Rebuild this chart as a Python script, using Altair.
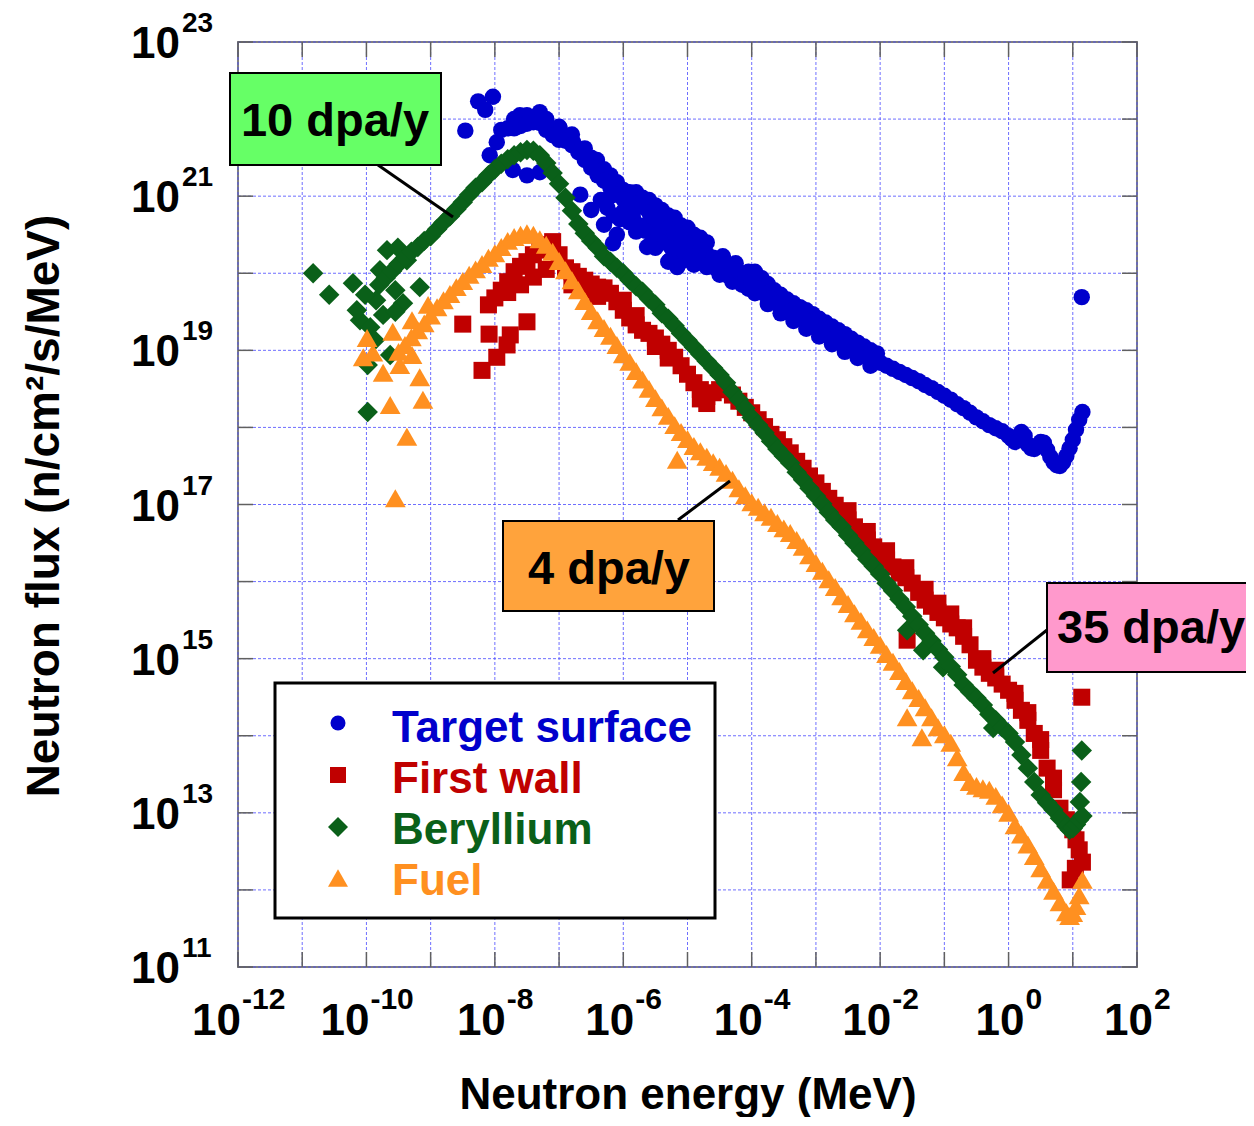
import altair as alt
import pandas as pd

# ---------------- data: (log10 E [MeV], log10 flux) ----------------
target_band = [(-7.9,21.86),(-7.8,21.88),(-7.7,21.88),(-7.6,21.91),(-7.5,21.94),(-7.4,21.96),(-7.3,21.95),
    (-7.2,21.86),(-7.1,21.79),(-7.0,21.73),(-6.9,21.72),(-6.8,21.66),(-6.7,21.57),(-6.6,21.47),(-6.5,21.37),
    (-6.4,21.27),(-6.3,21.20),(-6.2,21.11),(-6.1,21.02),(-6.0,20.96),(-5.9,20.94),(-5.8,20.90),(-5.7,20.86),
    (-5.6,20.79),(-5.5,20.72),(-5.4,20.65),(-5.3,20.59),(-5.2,20.52),(-5.1,20.46),(-5.0,20.39),(-4.9,20.34),
    (-4.8,20.30),(-4.7,20.25),(-4.6,20.20),(-4.5,20.15),(-4.4,20.11),(-4.3,20.05),(-4.2,20.02),(-4.1,19.95),
    (-4.0,19.89),(-3.9,19.80),(-3.8,19.73),(-3.7,19.67),(-3.6,19.61),(-3.5,19.56),(-3.4,19.51),(-3.3,19.46),
    (-3.2,19.42),(-3.1,19.37),(-3.0,19.32),(-2.9,19.26),(-2.8,19.21),(-2.7,19.16),(-2.6,19.12),(-2.5,19.06),
    (-2.4,19.00),(-2.3,18.97),(-2.2,18.91),(-2.1,18.87),(-2.0,18.84),(-1.9,18.80),(-1.8,18.76),(-1.7,18.72),
    (-1.6,18.68),(-1.5,18.64),(-1.4,18.60),(-1.3,18.55),(-1.2,18.51),(-1.1,18.46),(-1.0,18.41),(-0.9,18.36),
    (-0.8,18.30),(-0.7,18.25),(-0.6,18.19),(-0.5,18.13),(-0.4,18.08),(-0.3,18.03),(-0.2,17.99),(-0.1,17.95),
    (0.0,17.89),(0.05,17.85),(0.1,17.81),(0.15,17.84),(0.2,17.94),(0.25,17.89),(0.3,17.78),(0.35,17.73),
    (0.4,17.72),(0.45,17.76),(0.5,17.81),(0.55,17.80),(0.6,17.71),(0.65,17.62),(0.7,17.55),(0.75,17.51),
    (0.8,17.50),(0.85,17.55),(0.9,17.63),(0.95,17.73),(1.0,17.84),(1.05,17.97),(1.1,18.10),(1.15,18.20)]
target_scatter = [(-8.46,21.85),(-8.26,22.23),(-8.15,22.12),(-8.03,22.29),(-8.08,21.53),(-7.97,21.70),
    (-7.72,21.34),(-7.50,21.27),(-7.30,21.31),(-7.30,22.09),(-7.61,22.05),(-6.99,21.88),(-6.78,21.70),
    (-6.41,21.47),(-6.6,21.62),(-6.5,21.50),(-6.3,21.35),(-6.2,21.00),(-6.0,20.80),(-5.8,20.98),(-5.6,20.65),
    (-6.16,20.39),(-5.63,20.34),(-5.27,20.17),(-5.16,20.08),(1.14,19.69),
    (-7.7,22.00),(-7.5,22.05),(-7.2,22.00),(-7.0,21.90),(-6.8,21.80),(-6.67,21.02),(-6.5,20.82),
    (-6.3,20.63),(-6.1,20.50),(-5.9,20.66),(-5.8,20.54),(-5.58,20.37),(-5.5,20.33),(-5.3,20.15),
    (-5.1,20.15),(-4.9,20.11),(-4.7,20.08),(-4.5,19.98),(-4.3,19.89),(-6.2,21.27),(-6.0,21.08),
    (-5.8,21.05),(-5.6,20.95),(-5.4,20.82),(-5.2,20.72),(-5.0,20.59),(-4.8,20.46),
    (-6.35,20.95),(-6.25,20.85),(-6.15,20.75),(-6.05,20.70),(-5.95,20.78),(-5.85,20.72),(-5.75,20.62),
    (-5.65,20.55),(-5.45,20.50),(-5.35,20.40),(-5.25,20.33),(-5.15,20.30),(-5.05,20.28),(-4.95,20.22),
    (-4.85,20.18),(-4.75,20.16),(-4.65,20.12),(-4.55,20.06),(-4.45,20.02),(-4.35,19.96),
    (-6.1,21.18),(-5.9,21.05),(-5.7,20.98),(-5.5,20.88),(-5.3,20.75),(-5.1,20.62),(-4.9,20.50),(-4.7,20.40),
    (-4.45,20.22),(-4.25,20.13),(-4.05,20.02),(-4.15,19.85),(-4.05,19.80),
    (-3.95,20.02),(-3.85,19.94),(-3.75,19.86),(-3.65,19.78),(-3.55,19.72),(-3.45,19.66),(-3.35,19.61),
    (-3.25,19.56),(-3.15,19.52),(-3.05,19.47),(-2.95,19.41),(-2.85,19.36),(-2.75,19.31),(-2.65,19.26),
    (-2.55,19.21),(-2.45,19.15),(-2.35,19.10),(-2.25,19.05),(-2.15,19.00),(-2.05,18.96),
    (-3.95,19.74),(-3.75,19.60),(-3.55,19.48),(-3.35,19.38),(-3.15,19.28),(-2.95,19.18),(-2.75,19.08),
    (-2.55,18.98),(-2.35,18.90),(-2.15,18.80)]

firstwall_band = [(-8.1,19.59),(-8.0,19.68),(-7.9,19.78),(-7.8,19.89),(-7.7,20.02),(-7.6,20.09),(-7.5,20.15),
    (-7.4,20.24),(-7.3,20.30),(-7.2,20.37),(-7.1,20.41),(-7.0,20.24),(-6.9,20.07),(-6.8,20.02),(-6.7,19.96),
    (-6.6,19.91),(-6.5,19.86),(-6.4,19.82),(-6.3,19.81),(-6.2,19.74),(-6.1,19.63),(-6.0,19.52),(-5.9,19.42),
    (-5.8,19.33),(-5.7,19.26),(-5.6,19.22),(-5.5,19.16),(-5.4,19.08),(-5.3,19.00),(-5.2,18.91),(-5.1,18.80),
    (-5.0,18.69),(-4.9,18.58),(-4.8,18.49),(-4.7,18.40),(-4.6,18.45),(-4.5,18.49),(-4.4,18.49),(-4.3,18.42),
    (-4.2,18.34),(-4.1,18.26),(-4.0,18.19),(-3.9,18.10),(-3.8,18.01),(-3.7,17.91),(-3.6,17.84),(-3.5,17.75),
    (-3.4,17.67),(-3.3,17.56),(-3.2,17.47),(-3.1,17.37),(-3.0,17.28),(-2.9,17.17),(-2.8,17.08),(-2.7,16.99),
    (-2.6,16.90),(-2.5,16.80),(-2.4,16.71),(-2.3,16.63),(-2.2,16.54),(-2.1,16.45),(-2.0,16.37),(-1.9,16.28),
    (-1.8,16.19),(-1.7,16.11),(-1.6,16.05),(-1.5,15.98),(-1.4,15.86),(-1.3,15.76),(-1.2,15.68),(-1.1,15.60),
    (-1.0,15.53),(-0.9,15.45),(-0.8,15.40),(-0.7,15.29),(-0.6,15.18),(-0.5,14.98),(-0.4,14.89),(-0.3,14.81),
    (-0.2,14.75),(-0.1,14.67),(0.0,14.59),(0.1,14.46),(0.2,14.33),(0.3,14.20),(0.4,14.03),(0.5,13.81),
    (0.6,13.58),(0.7,13.30),(0.8,13.06),(0.9,12.91),(1.0,12.78),(1.05,12.65),(1.1,12.52),(1.15,12.36)]
firstwall_scatter = [(-8.50,19.34),(-8.09,19.21),(-8.20,18.74),(-7.97,18.91),(-7.81,19.07),(-7.50,19.37),
    (-7.76,19.20),(-7.8,19.75),(-7.6,19.85),(-7.4,19.95),(-7.2,20.05),(-4.8,18.37),(-4.7,18.31),
    (-1.58,15.24),(1.14,14.50),(0.96,12.13),(1.04,12.28),
    (-6.8,19.85),(-6.6,19.78),(-6.4,19.70),(-6.0,19.65),(-5.8,19.45),(-5.5,19.05),(-5.3,18.90),
    (-2.5,16.92),(-2.2,16.65),(-1.9,16.40),(-1.6,16.18),(-1.3,15.90),(-1.1,15.72),(-0.9,15.58),
    (-0.7,15.40),(-0.4,15.00),(-0.2,14.85),(0.1,14.55),(0.3,14.30),(0.5,13.95),(0.7,13.45)]

beryllium_band = [(-9.8,19.85),(-9.7,19.94),(-9.6,20.03),(-9.5,20.12),(-9.4,20.20),(-9.3,20.28),(-9.2,20.34),
    (-9.1,20.42),(-9.0,20.48),(-8.9,20.57),(-8.8,20.66),(-8.7,20.74),(-8.6,20.83),(-8.5,20.92),(-8.4,21.02),
    (-8.3,21.11),(-8.2,21.18),(-8.1,21.27),(-8.0,21.35),(-7.9,21.42),(-7.8,21.48),(-7.7,21.53),(-7.6,21.57),
    (-7.5,21.60),(-7.4,21.59),(-7.3,21.53),(-7.2,21.43),(-7.1,21.30),(-7.0,21.16),(-6.9,20.98),(-6.8,20.81),
    (-6.7,20.64),(-6.6,20.52),(-6.5,20.42),(-6.4,20.33),(-6.3,20.22),(-6.2,20.15),(-6.1,20.07),(-6.0,20.00),
    (-5.9,19.91),(-5.8,19.83),(-5.7,19.76),(-5.6,19.67),(-5.5,19.59),(-5.4,19.48),(-5.3,19.41),(-5.2,19.32),
    (-5.1,19.22),(-5.0,19.13),(-4.9,19.04),(-4.8,18.95),(-4.7,18.86),(-4.6,18.77),(-4.5,18.68),(-4.4,18.58),
    (-4.3,18.46),(-4.2,18.36),(-4.1,18.25),(-4.0,18.13),(-3.9,18.03),(-3.8,17.93),(-3.7,17.82),(-3.6,17.72),
    (-3.5,17.63),(-3.4,17.54),(-3.3,17.42),(-3.2,17.32),(-3.1,17.21),(-3.0,17.11),(-2.9,17.01),(-2.8,16.90),
    (-2.7,16.80),(-2.6,16.71),(-2.5,16.60),(-2.4,16.50),(-2.3,16.40),(-2.2,16.29),(-2.1,16.20),(-2.0,16.10),
    (-1.9,15.98),(-1.8,15.88),(-1.7,15.77),(-1.6,15.67),(-1.5,15.55),(-1.4,15.44),(-1.3,15.33),(-1.2,15.23),
    (-1.1,15.12),(-1.0,15.02),(-0.9,14.90),(-0.8,14.79),(-0.7,14.66),(-0.6,14.57),(-0.5,14.49),(-0.4,14.40),
    (-0.3,14.28),(-0.2,14.20),(-0.1,14.11),(0.0,14.03),(0.1,13.92),(0.2,13.75),(0.3,13.58),(0.4,13.40),
    (0.5,13.23),(0.6,13.13),(0.7,13.04),(0.8,12.93),(0.9,12.83),(0.95,12.78),(1.0,12.80),(1.05,12.85),
    (1.1,12.91),(1.15,12.96)]
beryllium_scatter = [(-10.83,20.00),(-10.58,19.72),(-10.21,19.87),(-10.10,19.39),(-9.85,19.65),(-9.68,20.30),
    (-9.63,18.94),(-9.98,18.81),(-9.98,18.20),(-9.94,19.30),(-9.74,19.46),(-9.55,19.78),(-9.43,19.61),
    (-9.17,19.82),(-9.37,20.17),(-9.51,20.33),(-9.79,20.04),(-10.02,19.72),(-9.87,19.13),(-10.15,19.52),
    (-9.55,19.50),(1.14,13.81),(1.13,13.40),(1.11,13.14),(-1.58,15.37),(-1.33,15.11),(-1.02,14.89),(-0.24,14.10)]

fuel_band = [(-9.5,18.98),(-9.4,19.07),(-9.3,19.17),(-9.2,19.26),(-9.1,19.35),(-9.0,19.45),(-8.9,19.56),
    (-8.8,19.65),(-8.7,19.73),(-8.6,19.82),(-8.5,19.90),(-8.4,19.98),(-8.3,20.05),(-8.2,20.12),(-8.1,20.20),
    (-8.0,20.26),(-7.9,20.34),(-7.8,20.42),(-7.7,20.47),(-7.6,20.50),(-7.5,20.52),(-7.4,20.50),(-7.3,20.44),
    (-7.2,20.37),(-7.1,20.28),(-7.0,20.16),(-6.9,20.04),(-6.8,19.91),(-6.7,19.78),(-6.6,19.64),(-6.5,19.51),
    (-6.4,19.39),(-6.3,19.29),(-6.2,19.19),(-6.1,19.07),(-6.0,18.95),(-5.9,18.85),(-5.8,18.73),(-5.7,18.62),
    (-5.6,18.50),(-5.5,18.38),(-5.4,18.26),(-5.3,18.15),(-5.2,18.03),(-5.1,17.94),(-5.0,17.85),(-4.9,17.76),
    (-4.8,17.69),(-4.7,17.62),(-4.6,17.55),(-4.5,17.49),(-4.4,17.41),(-4.3,17.32),(-4.2,17.21),(-4.1,17.12),
    (-4.0,17.03),(-3.9,16.97),(-3.8,16.90),(-3.7,16.84),(-3.6,16.76),(-3.5,16.69),(-3.4,16.63),(-3.3,16.54),
    (-3.2,16.45),(-3.1,16.34),(-3.0,16.24),(-2.9,16.14),(-2.8,16.03),(-2.7,15.93),(-2.6,15.81),(-2.5,15.71),
    (-2.4,15.59),(-2.3,15.49),(-2.2,15.38),(-2.1,15.28),(-2.0,15.18),(-1.9,15.06),(-1.8,14.96),(-1.7,14.84),
    (-1.6,14.71),(-1.5,14.59),(-1.4,14.49),(-1.3,14.37),(-1.2,14.24),(-1.1,14.11),(-1.0,14.02),(-0.9,13.91),
    (-0.8,13.72),(-0.7,13.53),(-0.6,13.40),(-0.5,13.35),(-0.4,13.32),(-0.3,13.30),(-0.2,13.22),(-0.1,13.11),
    (0.0,13.00),(0.1,12.84),(0.2,12.72),(0.3,12.59),(0.4,12.44),(0.5,12.28),(0.6,12.13),(0.7,11.99),
    (0.8,11.84),(0.9,11.71),(0.95,11.66),(1.0,11.70),(1.05,11.79),(1.1,11.93),(1.15,12.13)]
fuel_scatter = [(-9.99,19.16),(-10.05,18.91),(-9.90,18.97),(-9.59,19.24),(-9.29,19.39),(-9.04,19.59),
    (-9.74,18.71),(-9.17,18.65),(-9.12,18.36),(-9.63,18.29),(-9.37,17.88),(-9.55,17.08),(-9.48,18.81),
    (-9.29,18.94),(-5.16,17.58),(-1.58,14.24),(-1.35,13.98)]

series_names = ["Target surface", "First wall", "Beryllium", "Fuel"]
series_colors = ["#0000CC", "#C00000", "#0A6019", "#FF9020"]
series_shapes = ["circle", "square", "diamond", "triangle-up"]
series_sizes = [270, 290, 420, 430]

x_decades = list(range(-12, 3))
y_decades = list(range(11, 24))
x_label_exps = [-12, -10, -8, -6, -4, -2, 0, 2]
y_label_exps = [11, 13, 15, 17, 19, 21, 23]

annot_texts = ["10 dpa/y", "4 dpa/y", "35 dpa/y"]
annot_fills = ["#66FF66", "#FFA33C", "#FF99CC"]

# ---------------- chart ----------------
W, H = 899, 925
FONT = "Liberation Sans, Arial, sans-serif"
TICK = "#606060"
GRID = "#4a4aff"

xscale = alt.Scale(type="log", domain=[1e-12, 1e2], nice=False)
yscale = alt.Scale(type="log", domain=[1e11, 1e23], nice=False)
X = alt.X("E:Q", scale=xscale, axis=None)
Y = alt.Y("F:Q", scale=yscale, axis=None)


def to_df(pairs):
    return pd.DataFrame({"E": [10.0 ** a for a, _ in pairs], "F": [10.0 ** b for _, b in pairs]})


one = pd.DataFrame({"k": [0]})
layers = []

# dashed blue grid at every decade
xt = pd.DataFrame({"E": [10.0 ** k for k in x_decades]})
yt = pd.DataFrame({"F": [10.0 ** k for k in y_decades]})
layers += [
    alt.Chart(xt).mark_rule(color=GRID, strokeWidth=1, strokeDash=[3, 2], opacity=0.8)
    .encode(x=X, y=alt.value(0), y2=alt.value(H)),
    alt.Chart(yt).mark_rule(color=GRID, strokeWidth=1, strokeDash=[3, 2], opacity=0.8)
    .encode(y=Y, x=alt.value(0), x2=alt.value(W)),
]

all_series = [(target_band, target_scatter), (firstwall_band, firstwall_scatter),
              (beryllium_band, beryllium_scatter), (fuel_band, fuel_scatter)]
for i, (band, scat) in enumerate(all_series):
    df = to_df(scat + band)
    layers.append(alt.Chart(df).mark_point(shape=series_shapes[i], filled=True, size=series_sizes[i],
                                           color=series_colors[i], opacity=1, strokeWidth=0)
                  .encode(x=X, y=Y))

# inward decade ticks on all four sides
layers += [
    alt.Chart(xt).mark_rule(color=TICK, strokeWidth=1.5).encode(x=X, y=alt.value(0), y2=alt.value(15)),
    alt.Chart(xt).mark_rule(color=TICK, strokeWidth=1.5).encode(x=X, y=alt.value(H - 15), y2=alt.value(H)),
    alt.Chart(yt).mark_rule(color=TICK, strokeWidth=1.5).encode(y=Y, x=alt.value(0), x2=alt.value(15)),
    alt.Chart(yt).mark_rule(color=TICK, strokeWidth=1.5).encode(y=Y, x=alt.value(W - 15), x2=alt.value(W)),
]

# x tick labels 10^n
xl = pd.DataFrame({"E": [10.0 ** k for k in x_label_exps], "sup": [str(k) for k in x_label_exps],
                   "base": ["10"] * len(x_label_exps), "n": [len(str(k)) for k in x_label_exps]})
for n, dx in {3: 3, 2: 11, 1: 16}.items():
    sub = alt.Chart(xl).transform_filter(f"datum.n == {n}")
    layers.append(sub.mark_text(font=FONT, fontSize=44, fontWeight="bold", align="right",
                                baseline="alphabetic", dx=dx, color="black")
                  .encode(x=X, y=alt.value(993), text="base:N"))
    layers.append(sub.mark_text(font=FONT, fontSize=30, fontWeight="bold", align="left",
                                baseline="alphabetic", dx=dx + 1, color="black")
                  .encode(x=X, y=alt.value(967), text="sup:N"))

# y tick labels 10^n
yl = pd.DataFrame({"F": [10.0 ** k for k in y_label_exps], "sup": [str(k) for k in y_label_exps],
                   "base": ["10"] * len(y_label_exps)})
layers.append(alt.Chart(yl).mark_text(font=FONT, fontSize=44, fontWeight="bold", align="right",
                                      baseline="alphabetic", dy=16, color="black")
              .encode(y=Y, x=alt.value(-58), text="base:N"))
layers.append(alt.Chart(yl).mark_text(font=FONT, fontSize=28, fontWeight="bold", align="left",
                                      baseline="alphabetic", dy=-10, color="black")
              .encode(y=Y, x=alt.value(-56), text="sup:N"))

# axis titles
layers.append(alt.Chart(one).mark_text(font=FONT, fontSize=44, fontWeight="bold", align="center",
                                       baseline="alphabetic", color="black", text="Neutron energy (MeV)")
              .encode(x=alt.value(450), y=alt.value(1067)))
layers.append(alt.Chart(one).mark_text(font=FONT, fontSize=46, fontWeight="bold", align="center",
                                       baseline="middle", angle=270, color="black",
                                       text="Neutron flux (n/cm\u00b2/s/MeV)")
              .encode(x=alt.value(-193), y=alt.value(464)))

# legend
layers.append(alt.Chart(one).mark_rect(fill="white", stroke="black", strokeWidth=3)
              .encode(x=alt.value(37), x2=alt.value(477), y=alt.value(641), y2=alt.value(876)))
sym_y = [681, 733, 785, 836]
txt_y = [700, 751, 802, 853]
for i in range(4):
    layers.append(alt.Chart(one).mark_point(shape=series_shapes[i], filled=True, opacity=1, strokeWidth=0,
                                            size=[225, 256, 400, 400][i], color=series_colors[i])
                  .encode(x=alt.value(100), y=alt.value(sym_y[i])))
    layers.append(alt.Chart(one).mark_text(font=FONT, fontSize=44, fontWeight="bold", align="left",
                                           baseline="alphabetic", color=series_colors[i], text=series_names[i])
                  .encode(x=alt.value(154), y=alt.value(txt_y[i])))

# annotation callouts
pointers = [(140, 123, 215, 175), (440, 478, 492, 439), (809, 588, 755, 631)]
boxes = [(-8, 31, 203, 123), (265, 479, 476, 569), (809, 541, 1030, 630)]
text_pos = [(97, 94, "center"), (371, 542, "center"), (819, 601, "left")]
for i in range(3):
    x1, y1, x2, y2 = pointers[i]
    layers.append(alt.Chart(one).mark_rule(color="black", strokeWidth=3)
                  .encode(x=alt.value(x1), y=alt.value(y1), x2=alt.value(x2), y2=alt.value(y2)))
    bx1, by1, bx2, by2 = boxes[i]
    layers.append(alt.Chart(one).mark_rect(fill=annot_fills[i], stroke="black", strokeWidth=2)
                  .encode(x=alt.value(bx1), x2=alt.value(bx2), y=alt.value(by1), y2=alt.value(by2)))
    tx, ty, al = text_pos[i]
    layers.append(alt.Chart(one).mark_text(font=FONT, fontSize=47, fontWeight="bold", align=al,
                                           baseline="alphabetic", color="black", text=annot_texts[i])
                  .encode(x=alt.value(tx), y=alt.value(ty)))

chart = alt.layer(*layers).properties(
    width=W, height=H,
    autosize=alt.AutoSizeParams(type="none"),
    padding={"left": 230, "top": 34, "right": 109, "bottom": 150},
    background="white",
).configure_view(stroke="#808080", strokeWidth=2)

chart.save("out.html", embed_options={"renderer": "svg", "actions": False})
